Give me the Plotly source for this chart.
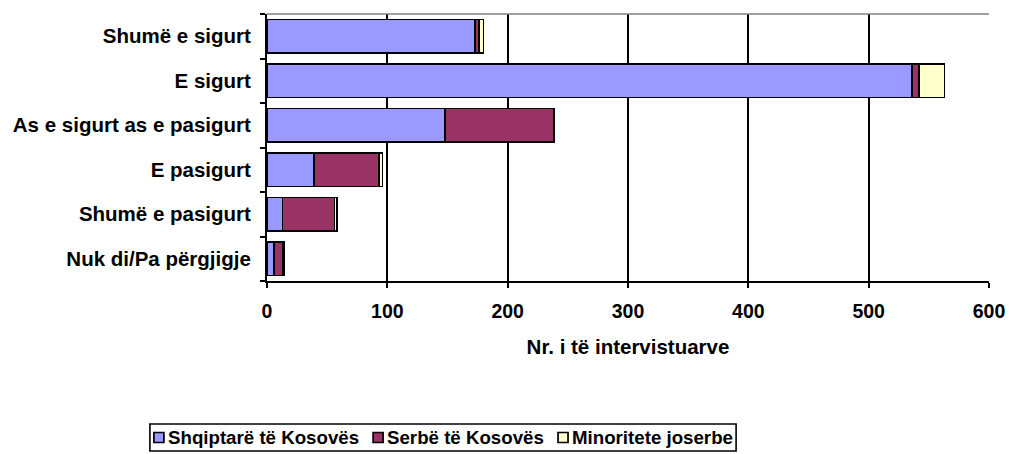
import plotly.graph_objects as go

categories = ["Shumë e sigurt", "E sigurt", "As e sigurt as e pasigurt",
              "E pasigurt", "Shumë e pasigurt", "Nuk di/Pa përgjigje"]
shqiptare = [173, 536, 148, 39, 13, 6]
serbe = [3, 6, 90, 54, 43, 7]
minoritete = [4, 21, 1, 3, 2, 1]
series_names = ["Shqiptarë të Kosovës", "Serbë të Kosovës", "Minoritete joserbe"]
colors = ["#9999FF", "#993366", "#FFFFCC"]
x_ticks = [0, 100, 200, 300, 400, 500, 600]

FONT = "Liberation Sans, Arial, sans-serif"
W, H = 1009, 454
ML, MR, MT, MB = 267, 20, 14, 173
PW, PH = W - ML - MR, H - MT - MB

fig = go.Figure()
for name, vals, col in zip(series_names, [shqiptare, serbe, minoritete], colors):
    fig.add_trace(go.Bar(
        y=categories, x=vals, name=name, orientation="h",
        marker=dict(color=col, line=dict(color="black", width=1.7)),
        showlegend=False,
    ))

# ---- custom legend (box, coloured squares, labels) ----
ARIAL_BOLD = {" ": 278, "S": 667, "K": 722, "M": 833, "a": 556, "b": 611, "e": 556,
              "ë": 556, "h": 611, "i": 278, "j": 278, "n": 611, "o": 611, "p": 611,
              "q": 611, "r": 389, "s": 556, "t": 333, "v": 556}
LEG_FS = 18.7


def tw(s, fs):
    return sum(ARIAL_BOLD.get(c, 556) for c in s) * fs / 1000.0


def px2x(px):
    return (px - ML) / PW


def py2y(py):
    return (H - MB - py) / PH


sq, gap_sq, gap_item, pad = 10, 3, 15, 4
total = pad + sum(sq + gap_sq + tw(n, LEG_FS) for n in series_names) + gap_item * 2 + pad
box_cx = 443
box_l = box_cx - total / 2
box_r = box_l + total
box_t, box_b = 424, 451
cy = (box_t + box_b) / 2

shapes = [
    dict(type="line", xref="paper", yref="paper", x0=0, x1=1, y0=1, y1=1,
         line=dict(color="#808080", width=1.5)),
    dict(type="rect", xref="paper", yref="paper",
         x0=px2x(box_l), x1=px2x(box_r), y0=py2y(box_b), y1=py2y(box_t),
         line=dict(color="black", width=1.6), fillcolor="white"),
]
annotations = []
x = box_l + pad
for name, col in zip(series_names, colors):
    shapes.append(dict(type="rect", xref="paper", yref="paper",
                       x0=px2x(x), x1=px2x(x + sq), y0=py2y(cy + sq / 2), y1=py2y(cy - sq / 2),
                       line=dict(color="black", width=1.7), fillcolor=col))
    tx = x + sq + gap_sq
    annotations.append(dict(text=name, xref="paper", yref="paper", x=px2x(tx), y=py2y(cy),
                            xanchor="left", yanchor="middle", showarrow=False, borderpad=0,
                            font=dict(family=FONT, size=LEG_FS, color="black", weight="bold")))
    x = tx + tw(name, LEG_FS) + gap_item

fig.update_layout(
    barmode="stack",
    bargap=0.25,
    width=W, height=H,
    margin=dict(l=ML, r=MR, t=MT, b=MB),
    paper_bgcolor="white", plot_bgcolor="white",
    font=dict(family=FONT, size=20, color="black", weight="bold"),
    showlegend=False,
    xaxis=dict(
        range=[0, 600], tickvals=x_ticks, ticktext=[str(v) for v in x_ticks],
        showgrid=True, gridcolor="black", gridwidth=2,
        showline=True, linecolor="black", linewidth=2,
        ticks="outside", ticklen=5, tickcolor="black", tickwidth=2,
        zeroline=False, automargin=False, ticklabelstandoff=7,
        title=dict(text="Nr. i të intervistuarve", standoff=18,
                   font=dict(family=FONT, size=20.5, color="black", weight="bold")),
        tickfont=dict(family=FONT, size=19.5, color="black", weight="bold"),
    ),
    yaxis=dict(
        categoryorder="array", categoryarray=categories[::-1],
        showline=True, linecolor="black", linewidth=2,
        ticks="outside", ticklen=5, tickcolor="black", tickwidth=2,
        tickson="boundaries", showgrid=False, automargin=False,
        ticklabelstandoff=10,
        tickfont=dict(family=FONT, size=20.5, color="black", weight="bold"),
    ),
    shapes=shapes,
    annotations=annotations,
)

fig.write_html("out.html", config={"displayModeBar": False},
               post_script="document.body.style.margin='0';")
